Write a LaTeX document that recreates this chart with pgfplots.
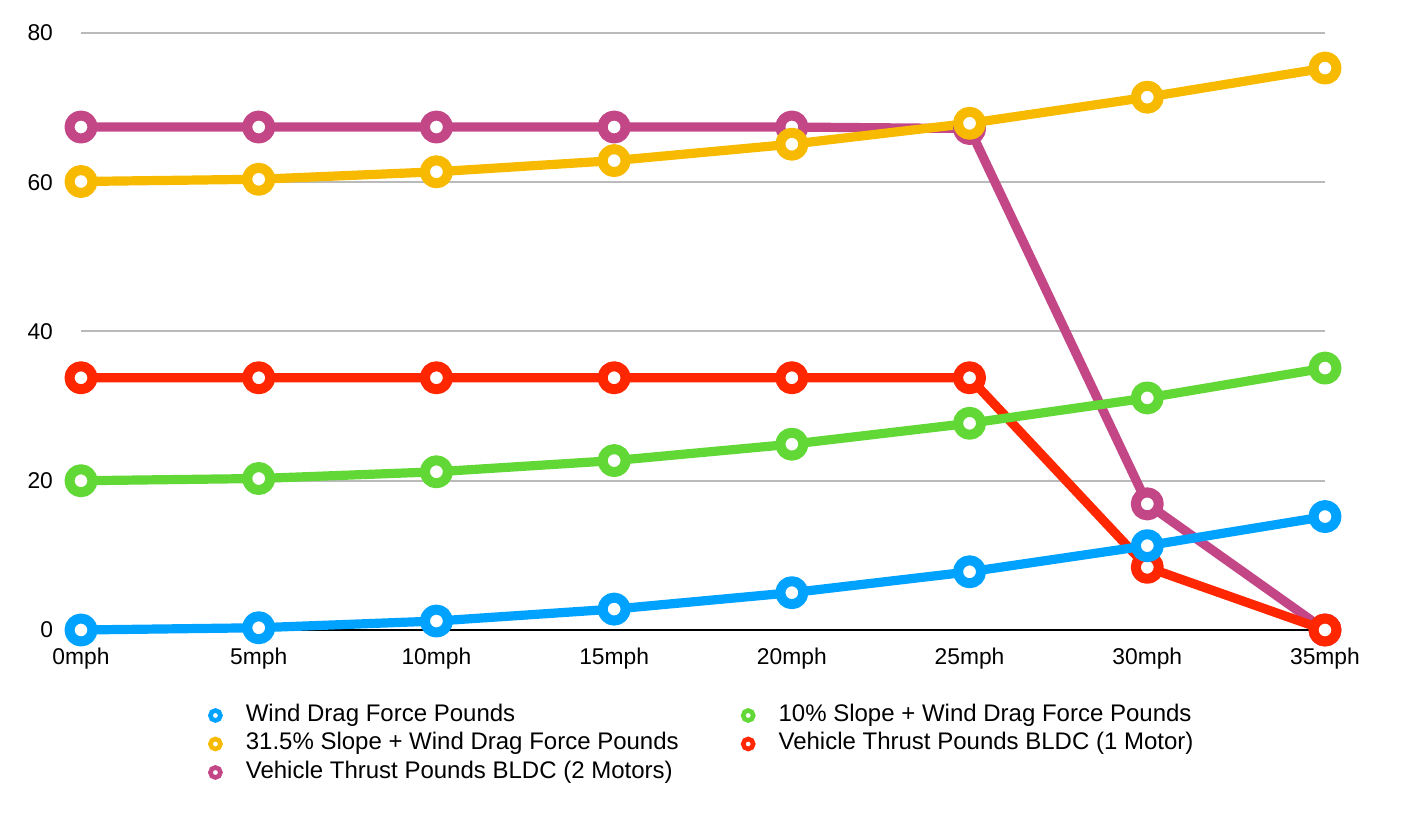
\documentclass[border=0pt]{standalone}
\usepackage{pgfplots}
\pgfplotsset{compat=1.18}
\usepackage{fontspec}
\setmainfont{Liberation Sans}
\definecolor{cBlue}{HTML}{00A2FF}
\definecolor{cGreen}{HTML}{61D836}
\definecolor{cYellow}{HTML}{F8BA00}
\definecolor{cRed}{HTML}{FF2600}
\definecolor{cPurple}{HTML}{C34786}
\pgfplotsset{
  ser/.style={line width=4.6pt, line join=round, mark=*, mark size=5.75pt,
    mark options={fill=white, line width=5pt, solid}},
  legmark/.style={only marks, mark=*, mark size=2.5pt,
    mark options={fill=white, line width=2.3pt}},
}
\begin{document}
\begin{tikzpicture}
\path[use as bounding box] (0,0) rectangle (705pt,409.5pt);
\begin{axis}[
  at={(40.5pt,94.5pt)}, anchor=south west,
  scale only axis, width=622pt, height=298.5pt,
  xmin=0, xmax=35, ymin=0, ymax=80,
  clip=false,
  axis x line*=bottom, axis y line*=left,
  x axis line style={black, line width=1pt},
  y axis line style={draw=none},
  major tick length=0pt,
  xtick={0,5,10,15,20,25,30,35},
  xticklabels={0mph,5mph,10mph,15mph,20mph,25mph,30mph,35mph},
  ytick={0,20,40,60,80},
  ymajorgrids, grid style={draw=black!27, line width=1pt},
  /pgf/number format/assume math mode=true,
  tick label style={font=\fontsize{11.4}{13}\selectfont},
  yticklabel style={xshift=-10.5pt},
  xticklabel style={yshift=-5.5pt},
  legend columns=2,
  legend cell align=left,
  legend image code/.code={\path (-4pt,0pt) (15pt,0pt); \draw[#1] plot coordinates {(0pt,0pt)};},
  legend style={draw=none, fill=none, inner sep=0pt, outer sep=0pt,
    at={(axis description cs:0.1013,-0.1231)}, anchor=north west,
    font=\fontsize{12}{14}\selectfont,
    nodes={inner xsep=0pt, inner ysep=0pt, text height=9pt, text depth=3pt},
    column sep=0pt, row sep=2.25pt},
]
\addplot[ser, cPurple, forget plot] coordinates {(0,67.4) (5,67.4) (10,67.4) (15,67.4) (20,67.4) (25,67.2) (30,16.9) (35,0)};
\addplot[ser, cRed, forget plot] coordinates {(0,33.8) (5,33.8) (10,33.8) (15,33.8) (20,33.8) (25,33.8) (30,8.4) (35,0)};
\addplot[ser, cYellow, forget plot] coordinates {(0,60.1) (5,60.4) (10,61.4) (15,62.9) (20,65.1) (25,67.9) (30,71.4) (35,75.3)};
\addplot[ser, cGreen, forget plot] coordinates {(0,20.0) (5,20.3) (10,21.2) (15,22.7) (20,24.9) (25,27.7) (30,31.1) (35,35.1)};
\addplot[ser, cBlue, forget plot] coordinates {(0,0) (5,0.3) (10,1.2) (15,2.8) (20,5.0) (25,7.8) (30,11.3) (35,15.2)};
\addlegendimage{legmark, cBlue}
\addlegendentry{\makebox[247pt][l]{Wind Drag Force Pounds}}
\addlegendimage{legmark, cGreen}
\addlegendentry{10\% Slope + Wind Drag Force Pounds}
\addlegendimage{legmark, cYellow}
\addlegendentry{\makebox[247pt][l]{31.5\% Slope + Wind Drag Force Pounds}}
\addlegendimage{legmark, cRed}
\addlegendentry{Vehicle Thrust Pounds BLDC (1 Motor)}
\addlegendimage{legmark, cPurple}
\addlegendentry{\makebox[247pt][l]{Vehicle Thrust Pounds BLDC (2 Motors)}}
\end{axis}
\end{tikzpicture}
\end{document}
